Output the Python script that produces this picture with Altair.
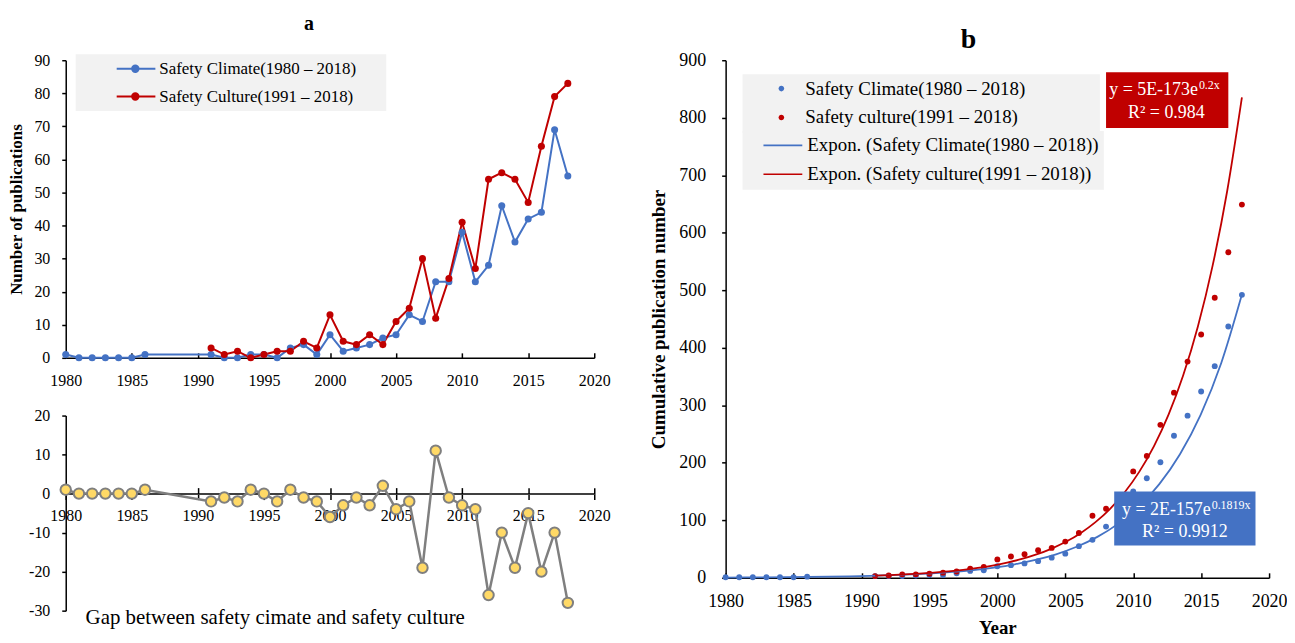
import altair as alt
import pandas as pd

FONT = "Liberation Serif"
BLUE = "#4472c4"
RED = "#c00000"
GOLD = "#ffd966"
GRAY = "#7f7f7f"
NBSP = "\u00a0"

# ---------------- data ----------------
climate_years = [1980, 1981, 1982, 1983, 1984, 1985, 1986,
                 1991, 1992, 1993, 1994, 1995, 1996, 1997, 1998, 1999, 2000,
                 2001, 2002, 2003, 2004, 2005, 2006, 2007, 2008, 2009, 2010,
                 2011, 2012, 2013, 2014, 2015, 2016, 2017, 2018]
climate_counts = [1, 0, 0, 0, 0, 0, 1,
                  1, 0, 0, 1, 1, 0, 3, 4, 1, 7,
                  2, 3, 4, 6, 7, 13, 11, 23, 23, 38,
                  23, 28, 46, 35, 42, 44, 69, 55]
culture_years = [1991, 1992, 1993, 1994, 1995, 1996, 1997, 1998, 1999, 2000,
                 2001, 2002, 2003, 2004, 2005, 2006, 2007, 2008, 2009, 2010,
                 2011, 2012, 2013, 2014, 2015, 2016, 2017, 2018]
culture_counts = [3, 1, 2, 0, 1, 2, 2, 5, 3, 13,
                  5, 4, 7, 4, 11, 15, 30, 12, 24, 41,
                  27, 54, 56, 54, 47, 64, 79, 83]
gap_values = [1, 0, 0, 0, 0, 0, 1,
              -2, -1, -2, 1, 0, -2, 1, -1, -2, -6,
              -3, -1, -3, 2, -4, -2, -19, 11, -1, -3,
              -4, -26, -10, -19, -5, -20, -10, -28]
climate_cumulative = [1, 1, 1, 1, 1, 1, 2,
                      3, 3, 3, 4, 5, 5, 8, 12, 13, 20,
                      22, 25, 29, 35, 42, 55, 66, 89, 112, 150,
                      173, 201, 247, 282, 324, 368, 437, 492]
culture_cumulative = [3, 4, 6, 6, 7, 9, 11, 16, 19, 32,
                      37, 41, 48, 52, 63, 78, 108, 120, 144, 185,
                      212, 266, 322, 376, 423, 487, 566, 649]

tick_years = [1980, 1985, 1990, 1995, 2000, 2005, 2010, 2015, 2020]
ticks_a = [0, 10, 20, 30, 40, 50, 60, 70, 80, 90]
ticks_gap = [-30, -20, -10, 0, 10, 20]
ticks_b = [0, 100, 200, 300, 400, 500, 600, 700, 800, 900]

SER_A = ["Safety Climate(1980 – 2018)", "Safety Culture(1991 – 2018)"]
SER_B = ["Safety Climate(1980 – 2018)", "Safety culture(1991 – 2018)"]
TREND_B = ["Expon. (Safety Climate(1980 – 2018))", "Expon. (Safety culture(1991 – 2018))"]
gap_caption = ["Gap between safety cimate and safety culture"]
gap_caption_x = [1981.5]
gap_caption_y = [-31.8]

# equation boxes (data coordinates of panel b)
box_x1 = [2008.0, 2008.6]
box_x2 = [2017.0, 2019.0]
box_y1 = [879, 150]
box_y2 = [782, 56]
box_fill = [RED, BLUE]
eq_text = ["y = 5E-173e", "y = 2E-157e"]
eq_x = [2014.76, 2015.7]
eq_y = [848, 117]
sup_text = ["0.2x", "0.1819x"]
sup_y = [857, 127]
r2_text = ["R² = 0.984", "R² = 0.9912"]
r2_x = [2012.44, 2013.8]
r2_y = [808, 80]

# ---------------- tables ----------------
df_counts = pd.DataFrame({
    "year": climate_years + culture_years,
    "count": climate_counts + culture_counts,
    "series": [SER_A[0]] * len(climate_years) + [SER_A[1]] * len(culture_years),
})
df_gap = pd.DataFrame({"year": climate_years, "gap": gap_values})
df_caption = pd.DataFrame({"year": gap_caption_x, "gap": gap_caption_y, "t": gap_caption})
df_cum = pd.DataFrame({
    "year": climate_years + culture_years,
    "cum": climate_cumulative + culture_cumulative,
    "series": [SER_B[0]] * len(climate_years) + [SER_B[1]] * len(culture_years),
})
df_box = pd.DataFrame({"x1": box_x1, "x2": box_x2, "y1": box_y1, "y2": box_y2, "c": box_fill})
df_eq = pd.DataFrame({"x": eq_x, "y": eq_y, "t": eq_text, "sy": sup_y, "st": sup_text})
df_r2 = pd.DataFrame({"x": r2_x, "y": r2_y, "t": r2_text})

x_scale = alt.Scale(domain=[1980, 2020], nice=False, zero=False)
INWARD = {"expr": "-5"}
AX = dict(labelFont=FONT, titleFont=FONT, labelColor="black", titleColor="black",
          domainColor="black", tickColor="black", domainWidth=1.5, tickWidth=1.5,
          grid=False, labelFlush=False, labelOverlap=False)

# ---------------- panel a, top ----------------
W_A, H_A = 531, 299
sym_a = ("M-0.05,0L1.03,0"
         "M0.56,0A0.09,0.09,0,1,1,0.38,0A0.09,0.09,0,1,1,0.56,0"
         "M0.515,0A0.045,0.045,0,1,1,0.425,0A0.045,0.045,0,1,1,0.515,0"
         "M0.48,0A0.01,0.01,0,1,1,0.46,0A0.01,0.01,0,1,1,0.48,0")
legend_a = alt.Legend(title=NBSP, titleOrient="right", titlePadding=24,
                      orient="none", legendX=10, legendY=-6,
                      fillColor="#f2f2f2", padding=6, symbolType=sym_a,
                      symbolSize=72 * 72, symbolStrokeWidth=2, labelFont=FONT,
                      labelFontSize=17, labelColor="black", labelLimit=600,
                      labelOffset=4, rowPadding=10, clipHeight=17)
color_a = alt.Scale(domain=SER_A, range=[BLUE, RED])
xa_axis = alt.Axis(values=tick_years, format="d", title=None, labelFontSize=16,
                   tickSize=INWARD, labelPadding=20, **AX)
ya_axis = alt.Axis(values=ticks_a, title="Number of publications", titleFontSize=17,
                   titleFontWeight="bold", labelFontSize=16, tickSize=4,
                   labelPadding=12, titlePadding=8, **AX)
xa = alt.X("year:Q", scale=x_scale, axis=xa_axis)
ya = alt.Y("count:Q", scale=alt.Scale(domain=[0, 90], nice=False), axis=ya_axis)
base_a = alt.Chart(df_counts)
line_a = base_a.mark_line(strokeWidth=2).encode(
    x=xa, y=ya, color=alt.Color("series:N", scale=color_a, legend=legend_a))
pts_a = base_a.mark_circle(size=50, opacity=1).encode(
    x=xa, y=ya, color=alt.Color("series:N", scale=color_a, legend=None))
top = alt.layer(line_a, pts_a).properties(
    width=W_A, height=H_A,
    title=alt.Title("a", fontSize=20, fontWeight="bold", font=FONT, color="black",
                    offset=18, anchor="middle", frame="bounds"))

# ---------------- panel a, bottom (gap) ----------------
H_G = 196
gap_scale = alt.Scale(domain=[-30, 20], nice=False)
xg_axis = alt.Axis(values=tick_years, format="d", title=None, labelFontSize=16,
                   offset=-H_G * 30 / 50, tickSize=6, labelPadding=8,
                   **{**AX, "domainColor": "#404040", "domainWidth": 2})
xg_axis_top = alt.Axis(values=tick_years, title=None, orient="top",
                       offset=-H_G * 20 / 50, tickSize=6, labels=False, domain=False,
                       tickColor="black", tickWidth=1.5, grid=False)
yg_axis = alt.Axis(values=ticks_gap, title=None, labelFontSize=16, tickSize=4,
                   labelPadding=12, labelExpr="toString(datum.value)", **AX)
yg = alt.Y("gap:Q", scale=gap_scale, axis=yg_axis)
line_g = alt.Chart(df_gap).mark_line(color=GRAY, strokeWidth=2.5).encode(
    x=alt.X("year:Q", scale=x_scale, axis=xg_axis), y=yg)
ticks_g = alt.Chart(df_gap).mark_line(opacity=0).encode(
    x=alt.X("year:Q", scale=x_scale, axis=xg_axis_top), y=yg)
pts_g = alt.Chart(df_gap).mark_circle(color=GOLD, stroke=GRAY, strokeWidth=2,
                                       size=110, opacity=1).encode(
    x=alt.X("year:Q", scale=x_scale, axis=None), y=yg)
cap_g = alt.Chart(df_caption).mark_text(align="left", baseline="middle", font=FONT,
                                        fontSize=21, color="black").encode(
    x=alt.X("year:Q", scale=x_scale, axis=None), y=yg, text="t:N")
bottom = (alt.layer(line_g, ticks_g, pts_g, cap_g)
          .resolve_axis(x="independent")
          .properties(width=W_A, height=H_G))

left = alt.vconcat(top, bottom, spacing=19)

# ---------------- panel b ----------------
W_B, H_B = 546, 520
dot_b = "M0.314,0A0.1,0.1,0,1,1,0.114,0A0.1,0.1,0,1,1,0.314,0Z"
line_b = "M-0.464,0L0.929,0"
color_b = alt.Scale(domain=SER_B, range=[BLUE, RED])
stroke_b = alt.Scale(domain=TREND_B, range=[BLUE, RED])
LEG_B = dict(orient="none", legendX=17, fillColor="#f2f2f2", padding=5,
             symbolSize=56 * 56, labelFont=FONT, labelFontSize=19, labelColor="black",
             labelLimit=600, labelOffset=2, rowPadding=9, clipHeight=19)
legend_b1 = alt.Legend(title=NBSP, titleOrient="right", titlePadding=70,
                       legendY=14, symbolType=dot_b, symbolStrokeWidth=0, **LEG_B)
legend_b2 = alt.Legend(title=None, legendY=71, symbolType=line_b,
                       symbolStrokeWidth=1.6, **LEG_B)
xb_axis = alt.Axis(values=tick_years, format="d", title="Year", labelFontSize=18,
                   titleFontSize=19, titleFontWeight="bold", tickSize=INWARD,
                   labelPadding=20, titlePadding=8, **AX)
yb_axis = alt.Axis(values=ticks_b, title="Cumulative publication number", titleFontSize=19,
                   titleFontWeight="bold", labelFontSize=18, tickSize=4, labelPadding=16,
                   titlePadding=10, **AX)
yb_scale = alt.Scale(domain=[0, 900], nice=False)


def xb(field):
    return alt.X(field, scale=x_scale, axis=xb_axis)


def yb(field):
    return alt.Y(field, scale=yb_scale, axis=yb_axis)


pts_b = alt.Chart(df_cum).mark_circle(size=35, opacity=1).encode(
    x=xb("year:Q"), y=yb("cum:Q"),
    color=alt.Color("series:N", scale=color_b, legend=legend_b1))
trend_b = (alt.Chart(df_cum)
           .transform_calculate(ly="log(datum.cum)")
           .transform_regression(on="year", regression="ly", method="poly", order=1,
                                 groupby=["series"])
           .transform_calculate(fit="exp(datum.ly)",
                                trend="'Expon. (' + datum.series + ')'")
           .mark_line(strokeWidth=1.8, interpolate="monotone")
           .encode(x=xb("year:Q"), y=yb("fit:Q"),
                   stroke=alt.Stroke("trend:N", scale=stroke_b, legend=legend_b2)))
boxes = alt.Chart(df_box).mark_rect().encode(
    x=xb("x1:Q"), x2="x2:Q", y=yb("y1:Q"), y2="y2:Q",
    fill=alt.Fill("c:N", scale=None))
eq_main = alt.Chart(df_eq).mark_text(align="right", baseline="middle", font=FONT,
                                     fontSize=18, color="white").encode(
    x=xb("x:Q"), y=yb("y:Q"), text="t:N")
eq_sup = alt.Chart(df_eq).mark_text(align="left", baseline="middle", font=FONT,
                                    fontSize=12, color="white", dx=1).encode(
    x=xb("x:Q"), y=yb("sy:Q"), text="st:N")
eq_r2 = alt.Chart(df_r2).mark_text(align="center", baseline="middle", font=FONT,
                                   fontSize=18, color="white").encode(
    x=xb("x:Q"), y=yb("y:Q"), text="t:N")
right = alt.layer(pts_b, trend_b, boxes, eq_main, eq_sup, eq_r2).properties(
    width=W_B, height=H_B,
    title=alt.Title("b", fontSize=28, fontWeight="bold", font=FONT, color="black",
                    offset=-3, anchor="middle", frame="bounds"))

chart = (alt.hconcat(left, right, spacing=40)
         .resolve_scale(color="independent", stroke="independent", fill="independent")
         .resolve_legend(color="independent", stroke="independent")
         .properties(padding={"top": 5, "left": 0, "right": 0, "bottom": 0},
                     background="white")
         .configure_view(stroke=None))

chart.save("out.html", embed_options={"renderer": "svg", "actions": False})
